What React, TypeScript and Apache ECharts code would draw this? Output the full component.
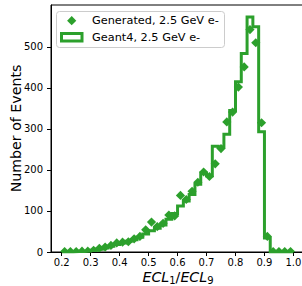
import React, { useEffect, useRef } from "react";
import * as echarts from "echarts";

// Histogram bin edges (40 bins of ECL1/ECL9)
const binEdges = [
  0.2, 0.22, 0.24, 0.26, 0.28, 0.3, 0.32, 0.34, 0.36, 0.38,
  0.4, 0.42, 0.44, 0.46, 0.48, 0.5, 0.52, 0.54, 0.56, 0.58,
  0.6, 0.62, 0.64, 0.66, 0.68, 0.7, 0.72, 0.74, 0.76, 0.78,
  0.8, 0.82, 0.84, 0.86, 0.88, 0.9, 0.92, 0.94, 0.96, 0.98, 1.0,
];

// Geant4, 2.5 GeV e- (step histogram)
const geant4Counts = [
  0, 0, 1, 1, 2, 4, 7, 10, 14, 18,
  22, 26, 30, 36, 44, 52, 58, 66, 80, 94,
  112, 124, 140, 165, 192, 186, 258, 256, 287, 345,
  415, 484, 573, 549, 293, 34, 0, 0, 0, 0,
];

// Generated, 2.5 GeV e- (diamond markers at bin centres)
const generatedCounts = [
  1, 1, 1, 2, 2, 4, 9, 12, 16, 22,
  24, 25, 32, 38, 54, 73, 62, 70, 90, 88,
  138, 128, 148, 170, 195, 184, 215, 252, 317, 341,
  402, 451, 542, 510, 315, 38, 1, 1, 1, 1,
];

const xTicks = [0.2, 0.3, 0.4, 0.5, 0.6, 0.7, 0.8, 0.9, 1.0];
const yTicks = [0, 100, 200, 300, 400, 500];

const GREEN = "#2ca02c";
const FONT = "DejaVu Sans";

export default function App() {
  const ref = useRef<HTMLDivElement>(null);

  useEffect(() => {
    if (!ref.current) return;
    const chart = echarts.init(ref.current, undefined, { renderer: "svg" });

    const stepPoints: number[][] = [[binEdges[0], 0]];
    geant4Counts.forEach((c, i) => {
      stepPoints.push([binEdges[i], c]);
      stepPoints.push([binEdges[i + 1], c]);
    });
    stepPoints.push([binEdges[binEdges.length - 1], 0]);

    const markerPoints = generatedCounts.map((c, i) => [
      (binEdges[i] + binEdges[i + 1]) / 2,
      c,
    ]);

    const half = 4.6;

    chart.setOption({
      animation: false,
      textStyle: { fontFamily: FONT },
      grid: {
        left: 51,
        top: 5,
        width: 254,
        height: 247,
        outerBoundsMode: "none",
        containLabel: false,
        show: true,
        borderColor: "#000",
        borderWidth: 1,
        backgroundColor: "transparent",
      },
      xAxis: {
        type: "value",
        min: 0.163,
        max: 1.04,
        axisLine: { show: true, lineStyle: { color: "#000", width: 1 } },
        axisTick: {
          show: true,
          length: 4,
          lineStyle: { color: "#000" },
          customValues: xTicks,
        },
        axisLabel: {
          customValues: xTicks,
          formatter: (v: number) => v.toFixed(1),
          color: "#000",
          fontSize: 10,
          fontFamily: FONT,
          margin: 5,
        },
        splitLine: { show: false },
        name: "{i|ECL}{s|1}{n|/}{i|ECL}{s|9}",
        nameLocation: "middle",
        nameGap: 17,
        nameMoveOverlap: false,
        nameTextStyle: {
          color: "#000",
          fontSize: 14.2,
          fontFamily: FONT,
          rich: {
            i: { fontStyle: "italic", fontSize: 14.2, fontFamily: FONT, lineHeight: 16, verticalAlign: "middle", color: "#000" },
            n: { fontSize: 14.2, fontFamily: FONT, lineHeight: 16, verticalAlign: "middle", color: "#000" },
            s: { fontSize: 10, fontFamily: FONT, lineHeight: 10, verticalAlign: "bottom", color: "#000" },
          },
        },
      },
      yAxis: {
        type: "value",
        min: 0,
        max: 602,
        axisLine: { show: true, lineStyle: { color: "#000", width: 1 } },
        axisTick: {
          show: true,
          length: 4,
          lineStyle: { color: "#000" },
          customValues: yTicks,
        },
        axisLabel: {
          customValues: yTicks,
          color: "#000",
          fontSize: 10,
          fontFamily: FONT,
          margin: 8,
        },
        splitLine: { show: false },
        name: "Number of Events",
        nameLocation: "middle",
        nameGap: 28,
        nameMoveOverlap: false,
        nameTextStyle: { color: "#000", fontSize: 14.2, fontFamily: FONT },
      },
      series: [
        {
          name: "Geant4, 2.5 GeV e-",
          type: "line",
          data: stepPoints,
          showSymbol: false,
          symbol: "none",
          clip: true,
          lineStyle: { color: GREEN, width: 3, join: "miter" },
          z: 2,
        },
        {
          name: "Generated, 2.5 GeV e-",
          type: "custom",
          clip: true,
          data: markerPoints,
          z: 3,
          renderItem: (params: any, api: any) => {
            const p = api.coord([api.value(0), api.value(1)]);
            return {
              type: "polygon",
              shape: {
                points: [
                  [p[0], p[1] - half],
                  [p[0] + half, p[1]],
                  [p[0], p[1] + half],
                  [p[0] - half, p[1]],
                ],
              },
              style: { fill: GREEN },
            };
          },
        },
      ],
      graphic: [
        {
          type: "rect",
          z: 100,
          shape: { x: 56.5, y: 11.5, width: 168, height: 36, r: 3 },
          style: { fill: "rgba(255,255,255,0.8)", stroke: "#cccccc", lineWidth: 1 },
        },
        {
          type: "polygon",
          z: 101,
          shape: {
            points: [
              [71.7, 20.7 - half],
              [71.7 + half, 20.7],
              [71.7, 20.7 + half],
              [71.7 - half, 20.7],
            ],
          },
          style: { fill: GREEN },
        },
        {
          type: "text",
          z: 101,
          x: 92,
          y: 20.7,
          style: {
            text: "Generated, 2.5 GeV e-",
            font: `11.3px "${FONT}"`,
            fill: "#000",
            verticalAlign: "middle",
            align: "left",
          },
        },
        {
          type: "rect",
          z: 101,
          shape: { x: 61.5, y: 33.5, width: 20.5, height: 7.5 },
          style: { fill: "#fff", stroke: GREEN, lineWidth: 3 },
        },
        {
          type: "text",
          z: 101,
          x: 92,
          y: 37.2,
          style: {
            text: "Geant4, 2.5 GeV e-",
            font: `11.3px "${FONT}"`,
            fill: "#000",
            verticalAlign: "middle",
            align: "left",
          },
        },
      ],
    });

    return () => chart.dispose();
  }, []);

  return (
    <div
      style={{
        position: "fixed",
        left: 0,
        top: 0,
        width: 302,
        height: 286,
        overflow: "hidden",
        background: "#fff",
      }}
    >
      <div ref={ref} style={{ width: 310, height: 286 }} />
    </div>
  );
}
